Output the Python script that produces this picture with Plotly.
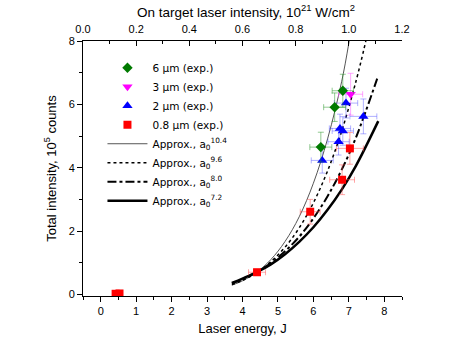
import plotly.graph_objects as go

# Experimental data (Laser energy J, Total intensity 1e5 counts)
g_x = [6.21, 6.60, 6.83]
g_y = [4.65, 5.91, 6.43]
g_ex = [0.31, 0.31, 0.30]
g_ey = [0.47, 0.45, 0.52]

m_x = [7.05]
m_y = [6.32]
m_ex = [0.34]
m_ey = [0.66]

b_x = [6.25, 6.71, 6.75, 6.83, 6.92, 7.41]
b_y = [4.23, 4.82, 5.24, 5.16, 6.04, 5.62]
b_ex = [0.31, 0.30, 0.30, 0.30, 0.33, 0.38]
b_ey = [0.40, 0.42, 0.45, 0.45, 0.47, 0.55]

r_x = [0.42, 0.53, 4.41, 5.91, 6.81, 7.03]
r_y = [0.02, 0.03, 0.70, 2.61, 3.62, 4.61]
r_ex = [0.0, 0.0, 0.24, 0.28, 0.35, 0.38]
r_ey = [0.0, 0.0, 0.10, 0.39, 0.47, 0.50]

# Approximation curves
c104_x = [3.70, 4.00, 4.40, 4.80, 5.20, 5.60, 6.00, 6.40, 6.80, 7.01]
c104_y = [0.29, 0.43, 0.70, 1.10, 1.67, 2.45, 3.51, 4.91, 6.73, 8.00]
c96_x = [3.70, 4.00, 4.40, 4.80, 5.20, 5.60, 6.00, 6.40, 6.80, 7.20, 7.48]
c96_y = [0.31, 0.44, 0.69, 1.03, 1.49, 2.10, 2.89, 3.90, 5.16, 6.72, 8.00]
c80_x = [3.70, 4.00, 4.40, 4.80, 5.20, 5.60, 6.00, 6.40, 6.80, 7.20, 7.80]
c80_y = [0.34, 0.48, 0.70, 0.99, 1.36, 1.82, 2.40, 3.10, 3.94, 4.95, 6.81]
c72_x = [3.70, 4.00, 4.40, 4.80, 5.20, 5.60, 6.00, 6.40, 6.80, 7.20, 7.83]
c72_y = [0.36, 0.50, 0.70, 0.95, 1.27, 1.66, 2.12, 2.67, 3.31, 4.06, 5.47]

x_ticks = [0, 1, 2, 3, 4, 5, 6, 7, 8]
y_ticks = [0, 2, 4, 6, 8]
top_ticks = [0.0, 0.2, 0.4, 0.6, 0.8, 1.0, 1.2]

FONT = "Liberation Sans, Arial, sans-serif"

fig = go.Figure()

def curve(xs, ys, name, color, width, dash, rank):
    fig.add_trace(go.Scatter(x=xs, y=ys, mode="lines", name=name, line_shape="spline",
                             line=dict(color=color, width=width, dash=dash), legendrank=rank))

curve(c104_x, c104_y, "Approx., a<sub>0</sub><sup>10.4</sup>", "#555555", 1, "solid", 5)
curve(c96_x, c96_y, "Approx., a<sub>0</sub><sup>9.6</sup>", "black", 1.5, "dot", 6)
curve(c80_x, c80_y, "Approx., a<sub>0</sub><sup>8.0</sup>", "black", 2, "dashdot", 7)
curve(c72_x, c72_y, "Approx., a<sub>0</sub><sup>7.2</sup>", "black", 2.5, "solid", 8)

def pts(xs, ys, ex, ey, name, color, ecolor, symbol, size, rank):
    fig.add_trace(go.Scatter(
        x=xs, y=ys, mode="markers", name=name, legendrank=rank,
        marker=dict(color=color, symbol=symbol, size=size, line=dict(width=0)),
        error_x=dict(type="data", array=ex, color=ecolor, thickness=1, width=3, visible=True),
        error_y=dict(type="data", array=ey, color=ecolor, thickness=1, width=3, visible=True),
    ))

pts(r_x, r_y, r_ex, r_ey, "0.8 µm (exp.)", "#ff0000", "rgba(255,80,80,0.5)", "square", 8, 4)
pts(b_x, b_y, b_ex, b_ey, "2 µm (exp.)", "#0000ff", "rgba(80,80,255,0.45)", "triangle-up", 9, 3)
pts(m_x, m_y, m_ex, m_ey, "3 µm (exp.)", "#ff00ff", "rgba(255,80,255,0.5)", "triangle-down", 9, 2)
pts(g_x, g_y, g_ex, g_ey, "6 µm (exp.)", "#007a00", "rgba(40,150,40,0.5)", "diamond", 8, 1)

# invisible trace to anchor the top axis
fig.add_trace(go.Scatter(x=[0, 1.2], y=[None, None], xaxis="x2", mode="markers",
                         showlegend=False, hoverinfo="skip", marker=dict(opacity=0)))

fig.update_layout(
    width=469, height=359,
    margin=dict(l=83, r=67, t=41, b=63, autoexpand=False),
    paper_bgcolor="white", plot_bgcolor="white",
    font=dict(family=FONT, size=11, color="black"),
    title=dict(text="On target laser intensity, 10<sup>21</sup> W/cm<sup>2</sup>",
               font=dict(family=FONT, size=13.5, color="black"),
               xref="paper", x=0.511, xanchor="center",
               yref="container", y=0.967, yanchor="middle"),
    showlegend=True,
    legend=dict(x=0.061, y=0.952, xanchor="left", yanchor="top",
                bgcolor="rgba(0,0,0,0)", borderwidth=0,
                font=dict(family="DejaVu Sans, sans-serif", size=10.5), tracegroupgap=0,
                itemwidth=40),
    xaxis=dict(range=[-0.5, 8.5], tickvals=x_ticks, ticks="outside", ticklen=5,
               tickcolor="black", showline=True, linecolor="black", linewidth=1,
               showgrid=False, zeroline=False, mirror=False, automargin=False,
               minor=dict(ticks="outside", dtick=0.5, ticklen=3, tickcolor="black"),
               title=dict(text="Laser energy, J", font=dict(size=13), standoff=7),
               tickfont=dict(size=11)),
    xaxis2=dict(range=[0, 1.2], overlaying="x", side="top", tickvals=top_ticks,
                tickformat=".1f", ticks="inside", ticklen=5, tickcolor="black",
                showline=True, linecolor="black", linewidth=1, showgrid=False,
                zeroline=False, automargin=False, ticklabelstandoff=3,
                minor=dict(ticks="inside", dtick=0.1, ticklen=3, tickcolor="black"),
                tickfont=dict(size=11)),
    yaxis=dict(range=[-0.05, 8], tickvals=y_ticks, ticks="outside", ticklen=5,
               tickcolor="black", showline=True, linecolor="black", linewidth=1,
               showgrid=False, zeroline=False, mirror=False, automargin=False,
               minor=dict(ticks="outside", dtick=1, ticklen=3, tickcolor="black"),
               title=dict(text="Total intensity, 10<sup>5</sup> counts", font=dict(size=13),
                          standoff=9),
               tickfont=dict(size=11)),
)

fig.write_html("out.html", config={"displayModeBar": False},
               post_script="document.body.style.margin='0';")
